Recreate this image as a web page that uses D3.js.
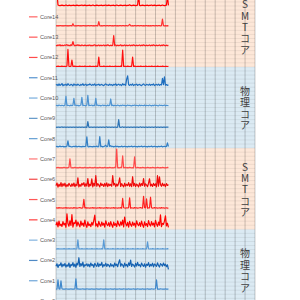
<!DOCTYPE html>
<html><head><meta charset="utf-8">
<script src="https://cdn.jsdelivr.net/npm/d3@7/dist/d3.min.js"></script>
<style>html,body{margin:0;padding:0;background:#fff;overflow:hidden}</style>
</head><body><svg id="c" width="300" height="300"></svg>
<script>
const categories = ["Core0","Core1","Core2","Core3","Core4","Core5","Core6","Core7","Core8","Core9","Core10","Core11","Core12","Core13","Core14","Core15"];
const bandLabels = ["物理コア","SMTコア","物理コア","SMTコア"];
const xTicks = d3.range(0, 201, 10);

const core0 = [5,4,6,5,4,5,6,4,5,4,6,5,4,5,6,4,5,4,6, 5,4,5,6,4,5,4,6,5,4,5,6,4,5,4,6,5,4,5, 6,4,5,4,6,5,4,5,6,4,5,4,6,5,4,5,6,4,5, 4,6,5,4,5,6,4,5,4,6,5,4,5,6,4,5,4,6,5, 4,5,6,4,5,4,6,5,4,5,6,4,5,4,6,5,4,5,6, 4,5,4,6,5,4,5,6,4,5,4,6,5,4,5,6,4,5,4];
const core1 = [6,5,51,6,5,46,7,5,6,5,7,6,5,6,5,7,5,6,5, 6,56,5,7,5,6,5,6,7,5,6,5,7,6,5,6,5,7,5, 6,5,6,7,5,6,5,7,6,5,6,5,7,5,6,5,6,7,5, 6,5,7,5,6,5,6,7,5,6,5,7,6,5,6,5,7,5,6, 5,6,7,5,6,5,7,6,5,6,5,7,5,6,5,6,7,5,6, 5,7,6,5,6,7,51,5,6,5,7,6,5,6,5,7,5,6,5];
const core2 = [18,30,12,26,22,35,15,28,20,32,14,25,18,34,12,27,21,36,16, 29,13,33,24,60,17,31,20,38,14,26,22,30,18,28,15,34,21,27, 13,32,24,18,35,16,29,22,37,14,26,20,33,17,28,23,15,31,19, 25,14,34,21,28,16,36,50,18,30,24,13,33,20,27,15,35,22,48, 17,29,23,14,32,19,37,21,26,15,34,24,18,30,13,28,22,36,16, 27,20,33,15,29,24,18,35,22,14,31,26,19,34,21,28,16,25,2];
const core3 = [4,3,5,3,4,3,4,3,5,4,3,4,3,5,4,3,4,3,5, 4,3,4,48,3,4,3,5,4,3,4,3,5,4,3,4,3,5,4, 3,4,3,5,4,3,4,3,5,4,48,3,4,3,5,4,3,4,3, 5,4,3,4,3,5,4,3,4,3,5,4,3,4,3,5,4,3,4, 3,5,4,3,4,3,5,4,3,4,3,5,4,3,4,3,38,4,3, 4,3,5,4,3,4,3,5,4,3,4,3,5,4,3,4,3,5,4];
const core4 = [20,35,12,40,18,25,14,38,22,30,10,76,28,15,42,19,72,11,33, 28,45,16,36,24,12,40,20,31,14,45,22,10,37,18,26,13,34,21, 44,70,16,27,12,39,23,15,36,20,30,11,42,25,18,33,14,38,22, 10,35,19,28,13,41,24,16,37,21,45,12,60,29,17,34,11,39,23, 15,36,20,30,11,42,25,18,33,14,40,22,10,37,19,28,13,43,24, 16,38,21,31,12,44,26,15,35,20,71,13,29,24,40,66,17,30,10];
const core5 = [5,6,4,7,5,6,5,4,6,5,7,4,6,5,4,6,5,4,7, 5,6,4,5,6,7,5,4,6,48,5,7,4,6,5,4,6,5,7, 4,6,5,4,6,5,7,4,6,5,4,6,5,7,4,6,5,4,6, 5,7,4,6,5,4,6,5,7,4,52,6,5,4,6,5,7,55,4, 6,5,4,7,5,6,4,5,6,7,5,4,62,6,5,50,4,6,5, 58,6,4,5,7,5,6,4,5,6,4,7,5,6,4,5,6,4,5];
const core6 = [15,28,8,22,12,30,10,25,14,27,9,20,12,26,18,11,24,13,28, 10,22,15,54,9,20,12,26,18,30,11,24,13,50,10,22,15,48,9, 27,14,64,12,25,18,9,28,16,22,11,26,13,29,10,24,15,21,12, 64,18,26,10,23,14,28,54,11,25,16,9,27,13,22,15,30,12,24, 10,59,14,26,11,23,17,9,28,13,25,16,50,12,24,18,10,27,49, 14,22,11,26,16,24,9,64,13,58,20,12,27,15,22,10,25,16,20];
const core7 = [4,3,5,3,4,3,4,3,5,4,3,4,3,5,47,4,3,4,3, 5,4,3,4,3,5,4,3,4,3,5,4,3,4,3,5,4,3,4, 3,5,4,3,4,3,5,4,3,4,3,5,4,3,4,3,5,4,3, 4,3,5,4,95,3,4,3,5,4,62,3,4,5,3,4,3,5,4, 3,4,3,57,4,3,5,4,3,4,3,5,4,3,4,3,5,4,3, 4,3,5,4,3,4,3,5,4,3,4,3,5,4,3,4,3,5,4];
const core8 = [7,9,6,8,10,7,8,9,6,8,7,10,36,8,9,7,6,8,9, 7,10,6,8,9,7,8,6,9,7,8,10,56,8,6,9,7,8,6, 9,7,8,10,6,8,57,7,9,6,8,10,14,7,9,41,8,12,7, 9,6,8,10,7,9,6,8,7,10,6,8,9,7,8,6,9,7,8, 10,6,8,9,7,8,6,9,7,8,10,6,8,9,7,8,6,9,7, 8,10,6,8,9,7,8,6,9,7,8,10,6,8,9,7,8,26,8];
const core9 = [3,2,4,3,2,3,5,2,3,4,2,3,3,2,4,3,2,3,3, 2,4,3,2,3,3,2,4,3,2,3,3,2,31,3,2,4,3,2, 3,3,2,4,3,2,3,3,2,4,3,2,3,5,2,3,4,2,3, 3,2,4,3,2,3,40,3,2,3,5,2,3,4,2,3,3,2,4, 3,2,3,3,2,4,3,2,3,5,2,3,3,2,4,3,2,3,3, 2,4,3,2,3,5,2,3,3,2,4,3,2,3,3,2,4,3,3];
const core10 = [9,11,8,12,10,9,11,10,8,12,55,9,11,10,8,12,9,11,45, 10,12,9,11,8,10,12,50,9,11,10,8,12,60,9,11,10,12,8, 11,9,45,10,12,9,11,8,10,12,9,11,10,8,12,9,11,42,9, 12,8,11,10,9,12,10,8,11,9,12,10,11,8,9,12,10,11,9, 8,11,10,12,9,11,10,8,12,9,11,10,9,12,8,11,10,9,12, 10,8,11,9,12,10,11,9,8,12,10,11,9,10,12,8,11,10,9];
const core11 = [10,14,8,16,9,12,18,7,13,10,15,8,17,11,9,14,12,7,16, 10,13,9,15,11,8,14,10,17,9,12,15,8,13,11,16,12,9,14, 10,16,8,13,11,15,9,12,14,10,8,13,16,11,12,9,15,10,13, 8,14,11,16,9,12,15,10,13,8,17,11,14,9,40,56,12,9,14, 10,16,8,13,11,15,9,12,14,10,8,13,16,11,9,14,12,10,15, 9,13,11,16,8,12,14,10,15,9,13,11,44,12,51,10,13,9,12];
const core12 = [3,2,4,3,2,3,4,2,3,3,2,4,86,3,2,3,34,2,3, 4,2,3,2,3,4,2,3,3,2,4,3,2,3,2,4,3,2,3, 3,2,4,3,2,48,3,2,3,2,4,3,2,3,3,2,4,3,2, 3,2,3,4,2,3,3,2,4,3,83,2,3,3,2,4,3,2,3, 3,48,2,4,3,2,3,3,2,4,3,2,3,2,4,3,2,3,3, 2,4,3,2,3,3,2,4,3,2,3,2,4,3,2,3,3,2,3];
const core13 = [6,4,8,5,9,4,7,5,6,8,6,10,5,7,4,9,6,25,8, 4,7,6,9,5,7,4,8,6,5,7,6,4,7,5,8,4,6,5, 7,9,4,6,5,8,4,7,5,6,8,4,7,5,9,6,4,7,5, 6,54,5,8,4,7,5,6,9,4,6,5,8,4,7,5,6,8,4, 7,5,9,6,4,7,5,6,8,4,7,5,9,6,4,7,5,6,8, 4,7,5,9,6,4,7,5,6,8,4,7,5,9,6,4,7,5,6];
const core14 = [3,2,3,2,4,3,2,3,2,3,4,2,3,2,3,3,2,13,3, 2,3,2,4,3,2,3,2,3,4,2,3,2,3,3,2,4,3,2, 3,2,4,3,2,23,3,2,3,2,4,3,2,3,3,2,4,3,2, 3,2,3,4,2,3,2,3,3,2,4,3,2,3,3,2,4,10,3, 2,3,2,4,3,2,3,3,2,4,3,2,3,2,3,4,2,3,2, 3,2,4,3,2,3,3,2,4,3,2,3,36,3,2,3,2,3,2];
const core15 = [30,62,5,3,2,3,4,3,2,3,5,3,2,4,3,2,3,3,4, 2,3,4,3,2,3,3,5,2,3,4,3,2,3,3,4,2,3,5, 3,2,3,4,3,2,3,3,4,2,3,3,5,2,3,4,3,2,3, 3,4,2,3,5,3,2,3,4,3,2,3,3,4,2,3,3,6,3, 2,3,4,3,2,3,4,55,3,2,3,4,3,2,3,3,4,2,3, 3,5,2,3,4,3,2,3,3,4,2,3,5,3,2,3,4,48,3];
const seriesValues = [core0,core1,core2,core3,core4,core5,core6,core7,core8,core9,core10,core11,core12,core13,core14,core15];

const colors = ["#2e75b6","#3f88cc","#1562b2","#5a9bd5","#ff0000","#ff1f1f","#f00a0a","#ff4a4a",
                "#3380c6","#2e75b6","#4d93d2","#1f6fc0","#ff1010","#ff2020","#ff3030","#ff0000"];

const svg = d3.select("#c");
const x = d3.scaleLinear().domain([0, 200]).range([56, 255]);
const y = d3.scaleLinear().domain([0, 1600]).range([310.5, -14.3]);
const rowStep = 100;

// bands
svg.append("g").selectAll("rect").data(bandLabels).join("rect")
  .attr("x", x(0)).attr("width", x(200) - x(0))
  .attr("y", (d, i) => y((i + 1) * 400)).attr("height", (d, i) => y(i * 400) - y((i + 1) * 400))
  .attr("fill", (d, i) => i % 2 === 0 ? "#dbeaf3" : "#fde7d8");

// horizontal minor grid
svg.append("g").selectAll("line").data(d3.range(0, 1601, 20)).join("line")
  .attr("x1", x(0)).attr("x2", x(200))
  .attr("y1", d => y(d)).attr("y2", d => y(d))
  .attr("stroke", "rgba(0,0,0,0.09)").attr("stroke-width", 0.7);

// vertical grid
svg.append("g").selectAll("line").data(xTicks).join("line")
  .attr("x1", d => x(d)).attr("x2", d => x(d))
  .attr("y1", y(1600)).attr("y2", y(0))
  .attr("stroke", "rgba(0,0,0,0.26)").attr("stroke-width", 0.8);

// series lines
svg.append("g").selectAll("path").data(seriesValues).join("path")
  .attr("d", (vals, k) => d3.line().x((d, i) => x(i)).y(d => y(k * rowStep + d))(vals))
  .attr("fill", "none")
  .attr("stroke", (d, k) => colors[k])
  .attr("stroke-width", 1.2)
  .attr("stroke-linejoin", "round");

// legend
const lg = svg.append("g");
categories.forEach((c, k) => {
  const cy = y(k * rowStep + 50) + 0.7;
  lg.append("line").attr("x1", 29).attr("x2", 37.5).attr("y1", cy).attr("y2", cy)
    .attr("stroke", colors[k]).attr("stroke-width", 1.2).attr("opacity", 0.75);
  lg.append("text").attr("x", 40).attr("y", cy).attr("dy", "0.35em")
    .attr("font-family", "Liberation Sans, Arial, sans-serif").attr("font-size", 5.6)
    .attr("fill", "#595959").text(c);
});

// vertical band labels, one character per line
const tg = svg.append("g");
bandLabels.forEach((lab, b) => {
  const cy = y(b * 400 + 200) + 1;
  const chars = Array.from(lab);
  chars.forEach((ch, j) => {
    tg.append("text").attr("x", x(190)).attr("y", cy + (j - (chars.length - 1) / 2) * 11.4)
      .attr("dy", "0.36em").attr("text-anchor", "middle")
      .attr("font-family", "Noto Sans CJK JP, sans-serif").attr("font-size", 10)
      .attr("fill", "#404040").text(ch);
  });
});
</script></body></html>
